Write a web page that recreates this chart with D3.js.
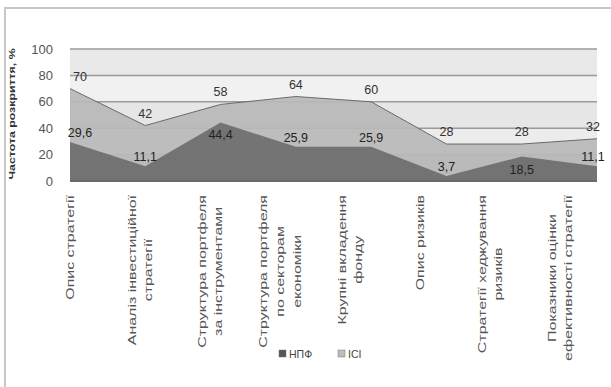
<!DOCTYPE html>
<html>
<head>
<meta charset="utf-8">
<script src="https://cdn.jsdelivr.net/npm/d3@7"></script>
<style>
  body { margin: 0; background: #fff; }
  text { font-family: "Liberation Sans", Arial, sans-serif; }
</style>
</head>
<body>
<script>
    //Data
        const categories = [
            ["Опис стратегії"],
            ["Аналіз інвестиційної", "стратегії"],
            ["Структура портфеля", "за інструментами"],
            ["Структура портфеля", "по секторам", "економіки"],
            ["Крупні вкладення", "фонду"],
            ["Опис ризиків"],
            ["Стратегії хеджування", "ризиків"],
            ["Показники оцінки", "ефективності стратегії"]
        ];
        const isiValues = [70, 42, 58, 64, 60, 28, 28, 32];
        const npfValues = [29.6, 11.1, 44.4, 25.9, 25.9, 3.7, 18.5, 11.1];
        const yTicks = [0, 20, 40, 60, 80, 100];
        const seriesNames = ["НПФ", "ІСІ"];

    //Layout
        const width = 611;
        const height = 387;
        const plotLeft = 70, plotRight = 597, plotTop = 49, plotBottom = 181;
        const stretch = 1.45; // the scanned text is drawn long along its baseline

        const svg = d3.select("body")
                    .append("svg")
                    .attr("width", width)
                    .attr("height", height);

        // outer frame of the scanned picture
        svg.append("path")
            .attr("d", "M5,387 V8 H611")
            .attr("fill", "none")
            .attr("stroke", "#c8c8c8")
            .attr("stroke-width", 2);

    //Scales
        const idx = d3.range(categories.length);
        const xScale = d3.scalePoint()
                        .domain(idx)
                        .range([plotLeft, plotRight])
                        .padding(0);

        // labels in the scan sit a little tighter than the points
        const labelScale = d3.scalePoint()
                        .domain(idx)
                        .range([plotLeft, 560])
                        .padding(0);

        const yScale = d3.scaleLinear()
                        .domain([0, 100])
                        .range([plotBottom, plotTop]);

    //Plot background bands
        const bandFill = ["#c9c9c9", "#ececec", "#e6e6e6", "#f1f1f1", "#e9e9e9"];
        svg.selectAll("rect.band")
            .data(yTicks.slice(0, -1))
            .enter()
            .append("rect")
            .attr("class", "band")
            .attr("x", plotLeft)
            .attr("y", d => yScale(d + 20))
            .attr("width", plotRight - plotLeft)
            .attr("height", d => yScale(d) - yScale(d + 20))
            .attr("fill", (d, i) => bandFill[i]);

    //Gridlines
        svg.selectAll("line.grid")
            .data(yTicks.filter(d => d > 0))
            .enter()
            .append("line")
            .attr("x1", plotLeft)
            .attr("x2", plotRight)
            .attr("y1", d => yScale(d))
            .attr("y2", d => yScale(d))
            .attr("stroke", "#9a9a9a")
            .attr("stroke-width", 1.5);

    //Areas
        const area = d3.area()
                       .x((d, i) => xScale(i))
                       .y0(yScale(0))
                       .y1(d => yScale(d));
        const line = d3.line()
                       .x((d, i) => xScale(i))
                       .y(d => yScale(d));

        svg.append("path")
            .attr("d", area(isiValues))
            .attr("fill", "#b8b8b8")
            .attr("fill-opacity", 0.92);
        svg.append("path")
            .attr("d", line(isiValues))
            .attr("fill", "none")
            .attr("stroke", "#6a6a6a")
            .attr("stroke-width", 1);

        svg.append("path")
            .attr("d", area(npfValues))
            .attr("fill", "#6e6e6e")
            .attr("fill-opacity", 0.93);

    //Bottom axis line
        svg.append("line")
            .attr("x1", plotLeft)
            .attr("x2", plotRight)
            .attr("y1", yScale(0))
            .attr("y2", yScale(0))
            .attr("stroke", "#6a6a6a")
            .attr("stroke-width", 2);

    //Data labels
        const fmt = v => String(v).replace(".", ",");
        const clampX = x => Math.max(plotLeft + 10, Math.min(plotRight - 4, x));
        // interior peaks get their label below the point, the rest above
        const isPeak = (arr, i) => i > 0 && i < arr.length - 1 && arr[i] > arr[i - 1] && arr[i] > arr[i + 1];

        svg.selectAll("text.isi")
            .data(isiValues)
            .enter()
            .append("text")
            .attr("x", (d, i) => clampX(xScale(i)))
            .attr("y", d => yScale(d) - 8)
            .attr("text-anchor", "middle")
            .attr("font-size", 12.5)
            .attr("fill", "#333")
            .text(fmt);

        svg.selectAll("text.npf")
            .data(npfValues)
            .enter()
            .append("text")
            .attr("x", (d, i) => clampX(xScale(i)))
            .attr("y", (d, i) => isPeak(npfValues, i) ? yScale(d) + 17 : yScale(d) - 5)
            .attr("text-anchor", "middle")
            .attr("font-size", 12.5)
            .attr("fill", "#222")
            .text(fmt);

    //Y axis
        const leftAxis = d3.axisLeft()
                           .scale(yScale)
                           .tickValues(yTicks)
                           .tickSize(0)
                           .tickPadding(17);
        const gy = svg.append("g")
            .attr("transform", "translate(" + plotLeft + ",0)")
            .call(leftAxis);
        gy.select(".domain").remove();
        gy.selectAll("text")
            .attr("font-size", 13)
            .attr("fill", "#555")
            .style("font-family", "'Liberation Sans', Arial, sans-serif");

        svg.append("text")
            .attr("transform", "translate(15," + ((plotTop + plotBottom) / 2 - 1) + ") rotate(-90) scale(1.3,1)")
            .attr("text-anchor", "middle")
            .attr("font-size", 9.5)
            .attr("font-weight", "bold")
            .attr("fill", "#333")
            .text("Частота розкриття, %");

    //X axis category labels (rotated, lines centred on each other)
        const catG = svg.selectAll("g.cat")
            .data(categories)
            .enter()
            .append("g")
            .attr("class", "cat")
            .attr("transform", (d, i) => "translate(" + labelScale(i) + "," + (plotBottom + 14) + ") rotate(-90) scale(" + stretch + ",1)");

        catG.each(function(lines) {
            const g = d3.select(this);
            const n = lines.length;
            const texts = lines.map((t, j) =>
                g.append("text")
                    .attr("y", (j - (n - 1) / 2) * 17 + 4)
                    .attr("text-anchor", "middle")
                    .attr("font-size", 11)
                    .attr("fill", "#555")
                    .text(t));
            const maxLen = d3.max(texts, t => t.node().getComputedTextLength());
            texts.forEach(t => t.attr("x", -maxLen / 2));
        });

    //Legend
        const legendColors = ["#555", "#bdbdbd"];
        const legendX = [279, 338];
        seriesNames.forEach((name, i) => {
            svg.append("rect")
                .attr("x", legendX[i])
                .attr("y", 350)
                .attr("width", 7)
                .attr("height", 7)
                .attr("fill", legendColors[i])
                .attr("stroke", "#777")
                .attr("stroke-width", 0.5);
            svg.append("text")
                .attr("x", legendX[i] + 10)
                .attr("y", 357.5)
                .attr("font-size", 10.5)
                .attr("fill", "#444")
                .text(name);
        });
</script>
</body>
</html>
